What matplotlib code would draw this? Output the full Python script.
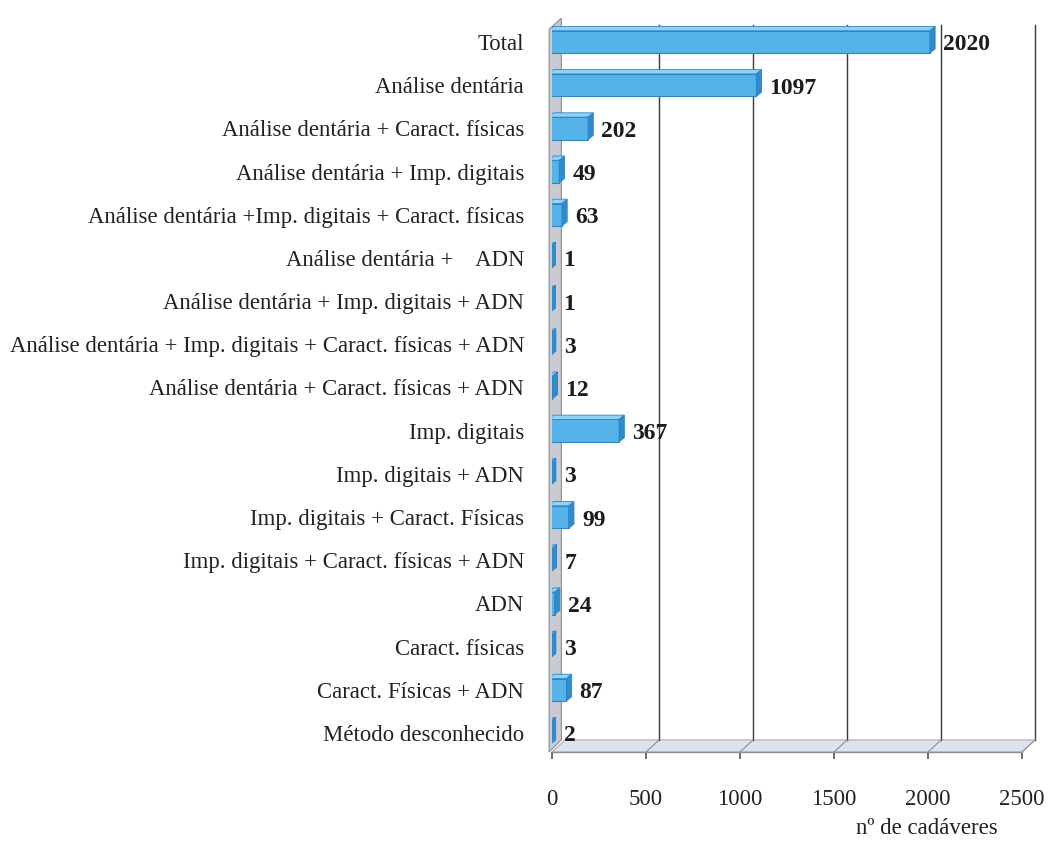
import numpy as np
import matplotlib
matplotlib.use("Agg")
import matplotlib.pyplot as plt
from matplotlib.patches import Polygon

plt.rcParams['font.family'] = ['Liberation Serif', 'DejaVu Serif']

categorias = [
    "Total",
    "Análise dentária",
    "Análise dentária + Caract. físicas",
    "Análise dentária + Imp. digitais",
    "Análise dentária +Imp. digitais + Caract. físicas",
    "Análise dentária +    ADN",
    "Análise dentária + Imp. digitais + ADN",
    "Análise dentária + Imp. digitais + Caract. físicas + ADN",
    "Análise dentária + Caract. físicas + ADN",
    "Imp. digitais",
    "Imp. digitais + ADN",
    "Imp. digitais + Caract. Físicas",
    "Imp. digitais + Caract. físicas + ADN",
    "ADN",
    "Caract. físicas",
    "Caract. Físicas + ADN",
    "Método desconhecido",
]
cadaveres = [2020, 1097, 202, 49, 63, 1, 1, 3, 12, 367, 3, 99, 7, 24, 3, 87, 2]
xticks = [0, 500, 1000, 1500, 2000, 2500]

fig = plt.figure(figsize=(10.56, 8.42), dpi=100)
ax = fig.add_axes([0.5227, 0.1069, 0.4451, 0.8753])

n = len(categorias)
y = np.arange(n)
y_bot, y_top = 16.44, -0.625
ax.set_xlim(0, 2500)
ax.set_ylim(y_bot, y_top)

# profundidade do "3D"
DX, DY = 70, 0.28

# chão
ax.add_patch(Polygon([(0, y_bot), (2500, y_bot), (2500 + DX, y_bot - DY), (DX, y_bot - DY)],
                     closed=True, facecolor='#dde3ec', edgecolor='#a9adb5', lw=0.8,
                     clip_on=False, zorder=1))
# parede lateral
ax.add_patch(Polygon([(-15, y_bot), (-15, -0.3), (DX - 20, -0.55), (DX - 20, y_bot - DY)],
                     closed=True, facecolor='#c9cad2', edgecolor='#8d8f96', lw=0.8,
                     clip_on=False, zorder=1))
# linhas de grelha na parede de fundo
for xv in xticks[1:]:
    ax.plot([xv + DX, xv + DX], [y_bot - DY, -0.39], color='#3a3a3a', lw=1.0,
            clip_on=False, zorder=1)
    ax.plot([xv, xv + DX], [y_bot, y_bot - DY], color='#8d8f96', lw=0.8,
            clip_on=False, zorder=1)

# barras
h = 0.52
d, e = 28, 0.1
x0 = -20
vals = np.array(cadaveres, dtype=float)
ax.barh(y, vals + 10, height=h, left=x0, color='#56b3ea', edgecolor='#2d85c2', lw=0.8, zorder=3)
for yi, v in zip(y, vals):
    top = yi - h / 2
    xe = v - 10
    ax.add_patch(Polygon([(x0, top), (xe, top), (xe + d, top - e), (x0 + d, top - e)],
                         closed=True, facecolor='#8fd2f6', edgecolor='#2d85c2', lw=0.6, zorder=3))
    ax.add_patch(Polygon([(xe, top), (xe + d, top - e), (xe + d, top + h - e), (xe, top + h)],
                         closed=True, facecolor='#2f8ccc', edgecolor='#2d85c2', lw=0.6, zorder=3))
    ax.annotate(f"{int(v)}", xy=(xe + d, yi), xytext=(8, -3), textcoords='offset pixels',
                ha='left', va='center', fontsize=17, fontweight='bold', color='#1c1c1c',
                zorder=4)

for s in ax.spines.values():
    s.set_visible(False)
ax.plot([0, 2500], [y_bot, y_bot], color='#8d8f96', lw=1.0, clip_on=False, zorder=2)

ax.set_yticks(y)
ax.set_yticklabels(categorias, fontsize=16.4, color='#222222')
ax.tick_params(axis='y', length=0, pad=20)
ax.set_xticks(xticks)
ax.set_xticklabels([str(t) for t in xticks], fontsize=16.5, color='#222222')
ax.tick_params(axis='x', length=5, width=1.2, color='#555555', pad=22)

fig.text(0.878, 0.003, "nº de cadáveres", fontsize=16.5, ha='center', va='bottom', color='#222222')

fig.savefig("out.png", dpi=100)
